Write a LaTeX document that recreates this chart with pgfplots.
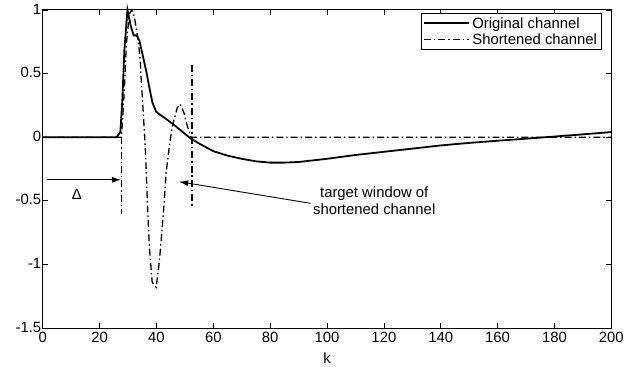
\documentclass[border=0pt]{standalone}
\usepackage{fontspec}
\setmainfont{Liberation Sans}
\usepackage{pgfplots}
\pgfplotsset{compat=1.18}
\usetikzlibrary{arrows.meta}
\tikzset{mdashdot/.style={dash pattern=on 7bp off 3bp on 1.5bp off 3bp}}
\begin{document}
\begin{tikzpicture}
\begin{axis}[
  scale only axis, width=572bp, height=320bp,
  xmin=0, xmax=200, ymin=-1.5, ymax=1,
  xtick={0,20,...,200}, ytick={-1.5,-1,-0.5,0,0.5,1},
  tick align=inside, major tick length=5bp,
  tick style={line width=0.7bp, black},
  axis line style={line width=0.9bp},
  /pgf/number format/assume math mode=true,
  ticklabel style={font=\fontsize{15}{17}\selectfont},
  yticklabel style={xshift=2bp, yshift=1bp},
  xticklabel style={yshift=-1bp},
  xlabel={k}, xlabel style={font=\fontsize{15}{17}\selectfont, yshift=-3bp},
  legend style={at={(1,1)}, anchor=north east, xshift=-10bp, yshift=-3bp,
    draw=black, line width=0.7bp, fill=white, font=\fontsize{15}{17}\selectfont,
    row sep=0bp, inner sep=2bp},
  legend cell align=left,
  legend image code/.code={\draw[#1] (0bp,0bp) -- (46bp,0bp);},
  clip=false,
]
\addplot[black, line width=1.8bp] coordinates {
(0,0) (26,0) (27.3,0.04) (28,0.29) (28.7,0.68) (29.8,1.0) (31,0.87) (32,0.8)
(33,0.8) (34,0.76) (35,0.66) (36.4,0.52) (37.5,0.39) (38.6,0.27) (39.9,0.2)
(41,0.18) (43,0.15) (46,0.1) (49,0.045) (52,-0.01) (55,-0.05) (60,-0.11)
(65,-0.145) (70,-0.17) (75,-0.19) (80,-0.2) (85,-0.2) (90,-0.195) (100,-0.17)
(110,-0.14) (120,-0.115) (130,-0.09) (140,-0.065) (150,-0.045) (160,-0.028)
(170,-0.012) (180,0.005) (190,0.022) (200,0.04)};
\addlegendentry{Original channel}
\addplot[black, line width=1.3bp, mdashdot] coordinates {
(0,0) (27.7,0) (28.7,0.37) (29.4,0.73) (30.5,0.97) (31.3,1.0) (32.2,0.95)
(33.6,0.76) (34.3,0.6) (34.7,0.42) (35.1,0.29) (35.6,0.1) (36,-0.05)
(36.4,-0.26) (36.8,-0.51) (37.5,-0.86) (38.5,-1.14) (39.9,-1.18) (41,-0.98)
(41.7,-0.8) (42.7,-0.52) (43.4,-0.28) (44.5,-0.08) (45.5,0.08) (47.3,0.23)
(48.3,0.26) (49.7,0.19) (50.8,0.09) (52.2,0) (200,0)};
\addlegendentry{Shortened channel}
\addplot[black, line width=1.3bp, mdashdot, forget plot] coordinates {(27.7,0) (27.7,-0.6)};
\addplot[black, line width=1.3bp, mdashdot, forget plot] coordinates {(52.5,0.57) (52.5,-0.54)};
\draw[line width=0.9bp, -{Latex[length=9bp,width=6bp]}] (axis cs:1.4,-0.335) -- (axis cs:27.5,-0.335);
\node[font=\fontsize{15}{17}\selectfont] at (axis cs:12,-0.45) {Δ};
\draw[line width=0.9bp, -{Latex[length=9bp,width=6bp]}] (axis cs:94.2,-0.52) -- (axis cs:48,-0.35);
\node[anchor=north, align=center, inner sep=0pt, font=\fontsize{15}{18}\selectfont] at (axis cs:116.6,-0.385) {target window of\\shortened channel};
\end{axis}
\path (current axis.south west) ++(-43bp,-38bp);
\path (current axis.north east) ++(12bp,10bp);
\end{tikzpicture}
\end{document}
